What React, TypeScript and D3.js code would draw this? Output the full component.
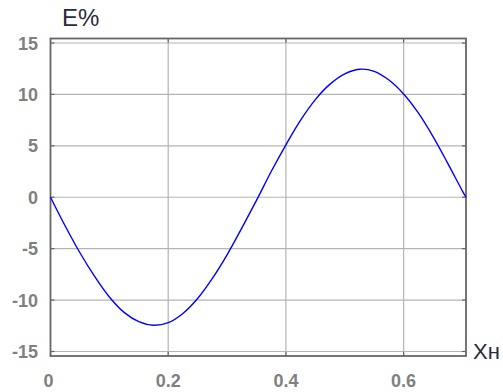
import React from 'react';
import * as d3 from 'd3';

// curve E% vs Xн
const xValues = [0, 0.025, 0.05, 0.075, 0.1, 0.125, 0.15, 0.175, 0.2, 0.225, 0.25, 0.275, 0.3, 0.325, 0.35,
  0.375, 0.4, 0.425, 0.45, 0.475, 0.5, 0.525, 0.55, 0.575, 0.6, 0.625, 0.65, 0.675, 0.7, 0.706];
const eValues = [0, -2.8, -5.4, -7.7, -9.7, -11.2, -12.1, -12.45, -12.2, -11.3, -9.85, -7.9, -5.6, -3.0, -0.3,
  2.5, 5.1, 7.5, 9.5, 11.0, 12.0, 12.45, 12.25, 11.4, 10.05, 8.2, 5.9, 3.3, 0.6, 0];

const xTicks = [0, 0.2, 0.4, 0.6];
const yTicks = [-15, -10, -5, 0, 5, 10, 15];
const yLabel = 'E%';
const xLabel = 'Xн';

const W = 503;
const H = 392;
const left = 50.5;
const right = 466;
const top = 38.5;
const bottom = 356;

const App = () => {
  const x = d3.scaleLinear().domain([0, 0.706]).range([left, right]);
  const y = d3.scaleLinear().domain([-15.44, 15.44]).range([bottom, top]);

  const points: [number, number][] = xValues.map((v, i) => [v, eValues[i]]);
  const line = d3.line<[number, number]>()
    .x(d => x(d[0]))
    .y(d => y(d[1]))
    .curve(d3.curveCatmullRom.alpha(0.5));

  const font = 'Liberation Sans, Arial, sans-serif';

  return (
    <svg width={W} height={H} style={{ position: 'fixed', left: 0, top: 0, background: '#fff' }}>
      {/* grid */}
      {yTicks.map(t => (
        <line key={'gy' + t} x1={left} x2={right} y1={y(t)} y2={y(t)} stroke="#b4b4b4" strokeWidth={1.2} />
      ))}
      {xTicks.filter(t => t > 0).map(t => (
        <line key={'gx' + t} x1={x(t)} x2={x(t)} y1={top} y2={bottom} stroke="#b4b4b4" strokeWidth={1.2} />
      ))}
      {/* small ticks on the frame */}
      {yTicks.map(t => (
        <g key={'ty' + t}>
          <line x1={left} x2={left + 4} y1={y(t)} y2={y(t)} stroke="#666" strokeWidth={1.2} />
          <line x1={right - 4} x2={right} y1={y(t)} y2={y(t)} stroke="#666" strokeWidth={1.2} />
        </g>
      ))}
      {xTicks.map(t => (
        <g key={'tx' + t}>
          <line x1={x(t)} x2={x(t)} y1={bottom - 4} y2={bottom} stroke="#666" strokeWidth={1.2} />
          <line x1={x(t)} x2={x(t)} y1={top} y2={top + 4} stroke="#666" strokeWidth={1.2} />
        </g>
      ))}
      {/* frame */}
      <rect x={left} y={top} width={right - left} height={bottom - top} fill="none" stroke="#666" strokeWidth={1.8} />

      {/* curve */}
      <path d={line(points) ?? ''} fill="none" stroke="#0000ff" strokeWidth={1.4} />

      {/* tick labels */}
      {yTicks.map(t => (
        <text key={'ly' + t} x={38} y={y(t)} dy="0.36em" textAnchor="end"
          fontFamily={font} fontSize={18} fontWeight="bold" fill="#808080">{t}</text>
      ))}
      {xTicks.map(t => (
        <text key={'lx' + t} x={x(t) - (t === 0 ? 2 : 0)} y={387} textAnchor="middle"
          fontFamily={font} fontSize={18} fontWeight="bold" fill="#808080">{t}</text>
      ))}

      {/* axis titles */}
      <text x={62} y={26} fontFamily={font} fontSize={24} fill="#2a2a3a">{yLabel}</text>
      <text x={473} y={359} fontFamily={font} fontSize={22} fill="#2a2a3a">{xLabel}</text>
    </svg>
  );
};

export default App;
